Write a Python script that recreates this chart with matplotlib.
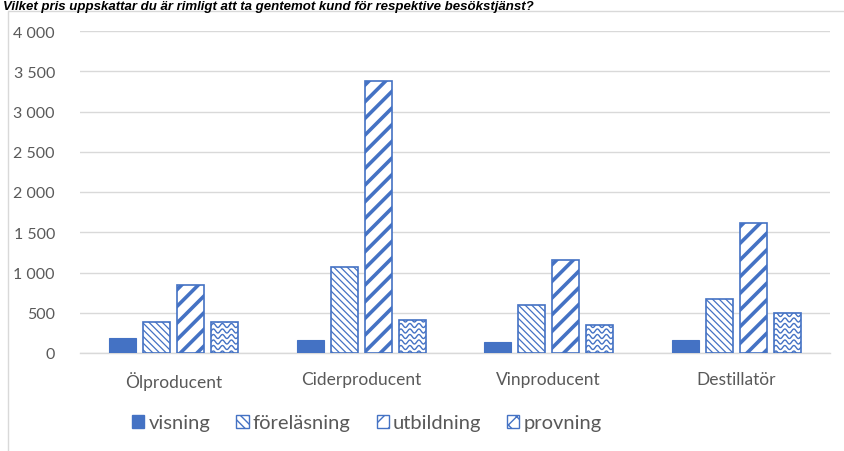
import matplotlib
matplotlib.use("Agg")
import matplotlib.pyplot as plt
import numpy as np
from matplotlib.patches import Rectangle, Patch
from matplotlib.ticker import FuncFormatter

# Data
categories = ["Ölproducent", "Ciderproducent", "Vinproducent", "Destillatör"]
series_names = ["visning", "föreläsning", "utbildning", "provning"]
visning = [186, 162, 140, 162]
forelasning = [385, 1068, 596, 675]
utbildning = [845, 3375, 1158, 1618]
provning = [385, 410, 348, 497]
title = "Vilket pris uppskattar du är rimligt att ta gentemot kund för respektive besökstjänst?"

blue = "#4472C4"
W, H = 845, 452
plt.rcParams['font.family'] = ['Lato', 'DejaVu Sans']

fig = plt.figure(figsize=(W / 100, H / 100), dpi=100)
ax = fig.add_axes([80 / W, 98 / H, 750 / W, 322 / H])

x = np.arange(len(categories))
bw = 0.144
step = 0.181
offsets = (np.arange(4) - 1.5) * step

ax.bar(x + offsets[0], visning, bw, color=blue, edgecolor=blue, linewidth=0.8, zorder=3)

plt.rcParams['hatch.color'] = blue
plt.rcParams['hatch.linewidth'] = 0.9
b2 = ax.bar(x + offsets[1], forelasning, bw, facecolor="white", edgecolor=blue,
            hatch="\\\\\\\\\\", linewidth=1.2, zorder=3)
plt.rcParams['hatch.linewidth'] = 2.6
b3 = ax.bar(x + offsets[2], utbildning, bw, facecolor="white", edgecolor=blue,
            hatch="//", linewidth=1.2, zorder=3)
plt.rcParams['hatch.linewidth'] = 1.0
b4 = ax.bar(x + offsets[3], provning, bw, facecolor="white", edgecolor=blue,
            linewidth=1.2, zorder=3)

for bars, lw in [(b2, 0.9), (b3, 2.6)]:
    for p in bars:
        if hasattr(p, "set_hatch_linewidth"):
            p.set_hatch_linewidth(lw)

# wavy hatch for "provning", clipped to each bar
ymax = 4000
px_per_unit = 322 / ymax
px_per_x = 750 / 4.0
for p in b4:
    x0, w, h = p.get_x(), p.get_width(), p.get_height()
    xs = np.linspace(x0, x0 + w, 60)
    amp = 2.0 / px_per_unit
    period = 9.0 / px_per_x
    yy = 0.0
    while yy < h + amp * 2:
        ys = yy + amp * np.sin(2 * np.pi * (xs - x0) / period)
        line, = ax.plot(xs, ys, color=blue, lw=1.0, zorder=4)
        line.set_clip_path(p)
        yy += 5.5 / px_per_unit

ax.set_ylim(0, ymax)
ax.set_xlim(-0.5, 3.5)
ax.set_yticks(np.arange(0, 4001, 500))
ax.yaxis.set_major_formatter(FuncFormatter(lambda v, _: f"{int(v):,}".replace(",", " ")))
ax.grid(axis="y", color="#D9D9D9", linewidth=1.0, zorder=0)
for s in ["top", "right", "left"]:
    ax.spines[s].set_visible(False)
ax.spines["bottom"].set_color("#D9D9D9")
ax.spines["bottom"].set_linewidth(1.0)
ax.tick_params(axis="y", length=0, pad=18, labelsize=11.5, labelcolor="#595959")
ax.tick_params(axis="x", length=0, pad=13, labelsize=12.5, labelcolor="#595959")
ax.set_xticks(x)
ax.set_xticklabels(categories)

handles = [
    Patch(facecolor=blue, edgecolor=blue, label=series_names[0]),
    Patch(facecolor="white", edgecolor=blue, hatch="\\\\\\\\", label=series_names[1]),
    Patch(facecolor="white", edgecolor=blue, hatch="//", label=series_names[2]),
    Patch(facecolor="white", edgecolor=blue, hatch="xx", label=series_names[3]),
]
leg = fig.legend(handles=handles, loc="center", bbox_to_anchor=(367 / W, 1 - 424 / H),
                 ncol=4, frameon=False, fontsize=14.5, handlelength=0.6, handleheight=0.6,
                 handletextpad=0.2, columnspacing=1.3, labelcolor="#595959")

# chart area border (clipped by the image edge)
fig.patches.append(Rectangle((8 / W, -0.1), 1.2, 1.1 - 12 / H, transform=fig.transFigure,
                             fill=False, edgecolor="#D9D9D9", linewidth=1.0, figure=fig))

fig.text(3 / W, 1 - 1 / H, title, ha="left", va="top", fontsize=9.5,
         fontstyle="italic", fontweight="bold", color="black", family=["Liberation Sans"])

fig.savefig("out.png", dpi=100)
